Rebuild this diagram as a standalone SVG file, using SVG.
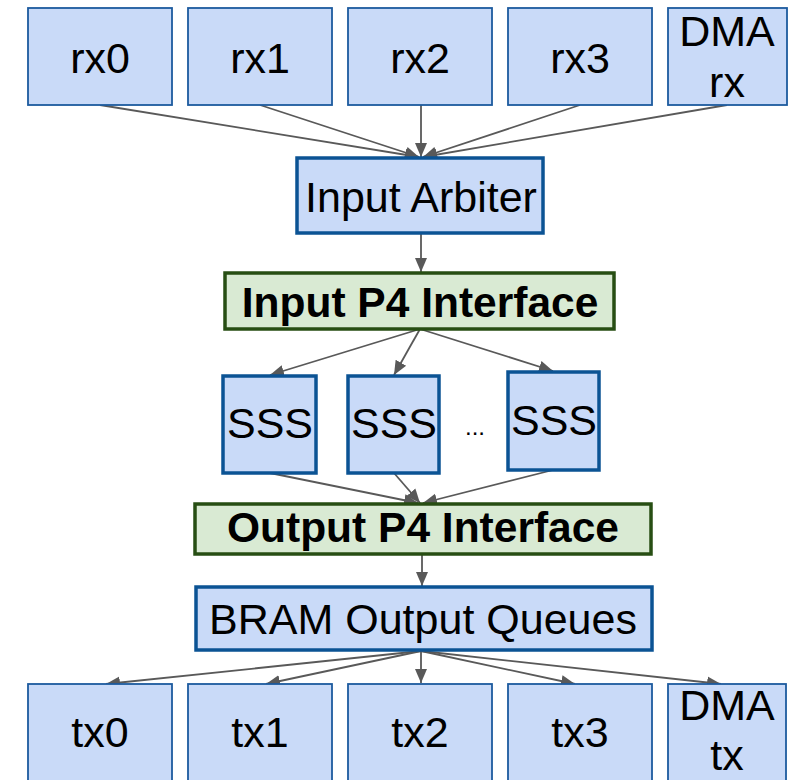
<svg xmlns="http://www.w3.org/2000/svg" width="792" height="780" viewBox="0 0 792 780">
<defs>
<style>
.port{fill:#c9daf8;stroke:#1c5a9e;stroke-width:1.8}
.blk{fill:#c9daf8;stroke:#0b5394;stroke-width:3.5}
.p4{fill:#d9ead3;stroke:#274e13;stroke-width:3.5}
.t{font-family:"Liberation Sans",Arial,sans-serif;font-size:43px;fill:#000;text-anchor:middle}
.b{font-family:"Liberation Sans",Arial,sans-serif;font-size:42.5px;font-weight:bold;fill:#000;text-anchor:middle}
.c{fill:none;stroke:#595959;stroke-width:1.8;marker-end:url(#ah)}
</style>
<marker id="ah" markerUnits="userSpaceOnUse" markerWidth="16" markerHeight="16" viewBox="0 0 16 16" refX="14" refY="8" orient="auto">
<path d="M0,2 L14,8 L0,14 Z" fill="#595959"/>
</marker>
</defs>
<rect width="792" height="780" fill="#fff"/>
<g id="connectors">
<line class="c" x1="100" y1="105" x2="419" y2="157"/>
<line class="c" x1="260" y1="105" x2="419" y2="157"/>
<line class="c" x1="421" y1="105" x2="421" y2="157"/>
<line class="c" x1="580" y1="105" x2="423" y2="157"/>
<line class="c" x1="727" y1="105" x2="423" y2="157"/>
<line class="c" x1="421" y1="233" x2="421" y2="272"/>
<line class="c" x1="420" y1="329" x2="270" y2="375"/>
<line class="c" x1="420" y1="329" x2="394" y2="375"/>
<line class="c" x1="420" y1="329" x2="553" y2="371"/>
<line class="c" x1="270" y1="473" x2="418" y2="503"/>
<line class="c" x1="394" y1="473" x2="420" y2="503"/>
<line class="c" x1="553" y1="470" x2="423" y2="503"/>
<line class="c" x1="422" y1="554" x2="422" y2="586"/>
<line class="c" x1="421" y1="651" x2="106" y2="684"/>
<line class="c" x1="421" y1="651" x2="266" y2="684"/>
<line class="c" x1="421" y1="651" x2="421" y2="683"/>
<line class="c" x1="421" y1="651" x2="575" y2="684"/>
<line class="c" x1="421" y1="651" x2="721" y2="684"/>
</g>
<g id="rx0"><rect class="port" x="28" y="8" width="144" height="97"/><text class="t" x="100" y="73">rx0</text></g>
<g id="rx1"><rect class="port" x="188" y="8" width="144" height="97"/><text class="t" x="260" y="73">rx1</text></g>
<g id="rx2"><rect class="port" x="348" y="8" width="144" height="97"/><text class="t" x="420" y="73">rx2</text></g>
<g id="rx3"><rect class="port" x="508" y="8" width="144" height="97"/><text class="t" x="580" y="73">rx3</text></g>
<g id="dmarx"><rect class="port" x="668" y="8" width="119" height="97"/><text class="t" x="727" y="46">DMA</text><text class="t" x="727" y="97">rx</text></g>
<g id="arbiter"><rect class="blk" x="297" y="158" width="246" height="75"/><text class="t" x="421" y="212">Input Arbiter</text></g>
<g id="inp4"><rect class="p4" x="225" y="273" width="389" height="56"/><text class="b" x="420" y="317">Input P4 Interface</text></g>
<g id="sss1"><rect class="blk" x="223" y="376" width="93" height="97"/><text class="t" x="270" y="438">SSS</text></g>
<g id="sss2"><rect class="blk" x="348" y="376" width="91" height="97"/><text class="t" x="394" y="438">SSS</text></g>
<g id="sss3"><rect class="blk" x="508" y="372" width="91" height="98"/><text class="t" x="554" y="435">SSS</text></g>
<text x="475" y="435" font-family="Liberation Sans,Arial,sans-serif" font-size="24" text-anchor="middle">...</text>
<g id="outp4"><rect class="p4" x="195" y="504" width="456" height="50"/><text class="b" x="423" y="542">Output P4 Interface</text></g>
<g id="bram"><rect class="blk" x="196" y="587" width="456" height="63"/><text class="t" x="423" y="634">BRAM Output Queues</text></g>
<g id="tx0"><rect class="port" x="28" y="684" width="144" height="100"/><text class="t" x="100" y="747">tx0</text></g>
<g id="tx1"><rect class="port" x="188" y="684" width="144" height="100"/><text class="t" x="260" y="747">tx1</text></g>
<g id="tx2"><rect class="port" x="348" y="684" width="144" height="100"/><text class="t" x="420" y="747">tx2</text></g>
<g id="tx3"><rect class="port" x="508" y="684" width="144" height="100"/><text class="t" x="580" y="747">tx3</text></g>
<g id="dmatx"><rect class="port" x="668" y="684" width="118" height="100"/><text class="t" x="727" y="720">DMA</text><text class="t" x="727" y="770">tx</text></g>
</svg>
